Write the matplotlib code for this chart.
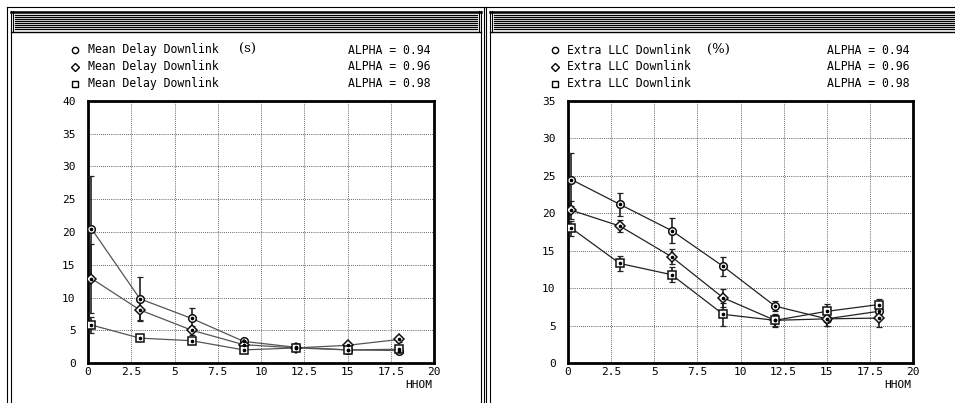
import matplotlib
matplotlib.use("Agg")
import matplotlib.pyplot as plt
from matplotlib.lines import Line2D

# ---------------- data ----------------
hhom = [0.2, 3, 6, 9, 12, 15, 18]
alpha_labels = ["ALPHA = 0.94", "ALPHA = 0.96", "ALPHA = 0.98"]

delay_a094 = [20.5, 9.8, 6.8, 3.3, 2.4, 2.0, 1.9]
delay_a096 = [12.9, 8.1, 5.0, 2.8, 2.3, 2.7, 3.6]
delay_a098 = [5.8, 3.8, 3.4, 2.0, 2.3, 2.0, 2.1]
delay_err094 = [8.0, 3.4, 1.6, 0.4, 0.3, 0.4, 0.4]
delay_err096 = [5.2, 1.5, 0.7, 0.4, 0.3, 0.4, 0.4]
delay_err098 = [1.2, 0.4, 0.5, 0.4, 0.3, 0.3, 0.4]

llc_a094 = [24.5, 21.2, 17.7, 12.9, 7.6, 5.9, 6.9]
llc_a096 = [20.4, 18.3, 14.2, 8.7, 5.7, 5.9, 6.0]
llc_a098 = [18.0, 13.3, 11.8, 6.5, 5.7, 6.9, 7.8]
llc_err094 = [3.5, 1.5, 1.7, 1.3, 0.7, 1.0, 0.8]
llc_err096 = [1.2, 0.8, 1.0, 1.2, 0.9, 0.9, 1.2]
llc_err098 = [1.0, 1.0, 1.0, 1.5, 0.7, 1.0, 0.8]

delay_ticks_y = [0, 5, 10, 15, 20, 25, 30, 35, 40]
llc_ticks_y = [0, 5, 10, 15, 20, 25, 30, 35]
x_ticks = [0, 2.5, 5, 7.5, 10, 12.5, 15, 17.5, 20]
x_tick_labels = ["0", "2.5", "5", "7.5", "10", "12.5", "15", "17.5", "20"]
markers = ["o", "D", "s"]
legend_markers = ["o", "D", "s"]

W, H = 955, 403
fig = plt.figure(figsize=(W / 100, H / 100), dpi=100)
fig.patch.set_facecolor("white")

# overlay for window frames (pixel coordinates)
ov = fig.add_axes([0, 0, 1, 1], zorder=-1)
ov.set_xlim(0, W)
ov.set_ylim(H, 0)
ov.axis("off")

def vline(x, y0, y1, lw=1.0):
    ov.add_line(Line2D([x, x], [y0, y1], color="black", lw=lw))

def hline(y, x0, x1, lw=1.0):
    ov.add_line(Line2D([x0, x1], [y, y], color="black", lw=lw))

def window(x0, x1, right_open=False):
    hline(7, x0 - 4, x1 + 4 if not right_open else W, lw=0.8)
    vline(x0 - 4, 7, H, lw=0.8)
    vline(x0, 11, H, lw=0.8)
    if not right_open:
        vline(x1, 11, H, lw=0.8)
        vline(x1 + 3, 7, H, lw=0.8)
    xe = x1 if not right_open else W
    hline(11.5, x0, xe, lw=1.8)
    hline(32, x0, xe, lw=1.0)
    vline(x0 + 2, 11, 32, lw=0.8)
    if not right_open:
        vline(x1 - 2, 11, 32, lw=0.8)
    for yy in range(15, 30, 2):
        hline(yy, x0 + 4, xe - 4 if not right_open else W, lw=0.9)

window(11, 481)
window(490, W, right_open=True)

MONO = ["DejaVu Sans Mono"]

def legend_block(mx, tx, unit_x, unit, ax_x, name):
    ys = [50, 66.5, 83.5]
    for i, y in enumerate(ys):
        ov.plot([mx], [y], marker=legend_markers[i], ms=4.5 if i != 1 else 4,
                mfc="white", mec="black", mew=1.0, ls="none")
        ov.text(tx, y, name, family=MONO, fontsize=8.3, va="center", ha="left")
        ov.text(ax_x, y, alpha_labels[i], family=MONO, fontsize=8.3,
                va="center", ha="left")
    ov.text(unit_x, 49, unit, family=["DejaVu Serif"], fontsize=9.5,
            va="center", ha="left")

legend_block(75, 88, 239, "(s)", 348, "Mean Delay Downlink")
legend_block(555, 567, 707, "(%)", 827, "Extra LLC Downlink")

def panel(rect, series, errs, yticks, ymax, line_color):
    ax = fig.add_axes(rect)
    ax.set_facecolor("white")
    for i, (vals, err) in enumerate(zip(series, errs)):
        ax.errorbar(hhom, vals, yerr=err, fmt="none", ecolor="#222222",
                    elinewidth=1.2, capsize=2.5, capthick=0.9, zorder=3)
        ax.plot(hhom, vals, color=line_color, lw=0.9, zorder=4)
        ax.plot(hhom, vals, ls="none", marker=markers[i],
                ms=5.5 if i != 1 else 5, mfc="white", mec="#111111", mew=1.1,
                zorder=5)
        ax.plot(hhom, vals, ls="none", marker="o", ms=1.6, color="black",
                zorder=6)
    ax.set_xlim(0, 20)
    ax.set_ylim(0, ymax)
    ax.set_xticks(x_ticks)
    ax.set_xticklabels(x_tick_labels, family=MONO, fontsize=8)
    ax.set_yticks(yticks)
    ax.set_yticklabels([str(t) for t in yticks], family=MONO, fontsize=8)
    ax.tick_params(length=0)
    ax.tick_params(axis="y", pad=9)
    ax.tick_params(axis="x", pad=3)
    ax.grid(True, color="#333333", ls=(0, (1, 1.5)), lw=0.6)
    ax.set_axisbelow(True)
    for s in ax.spines.values():
        s.set_linewidth(2)
        s.set_color("black")
    ax.text(0.995, -0.085, "HHOM", transform=ax.transAxes, family=MONO,
            fontsize=8, ha="right", va="center")
    return ax

bottom = (H - 363) / H
height = 262 / H
panel([88 / W, bottom, 346 / W, height],
      [delay_a094, delay_a096, delay_a098],
      [delay_err094, delay_err096, delay_err098], delay_ticks_y, 40, "#555555")
panel([568 / W, bottom, 345 / W, height],
      [llc_a094, llc_a096, llc_a098],
      [llc_err094, llc_err096, llc_err098], llc_ticks_y, 35, "#222222")

fig.savefig("out.png", dpi=100, facecolor="white")
